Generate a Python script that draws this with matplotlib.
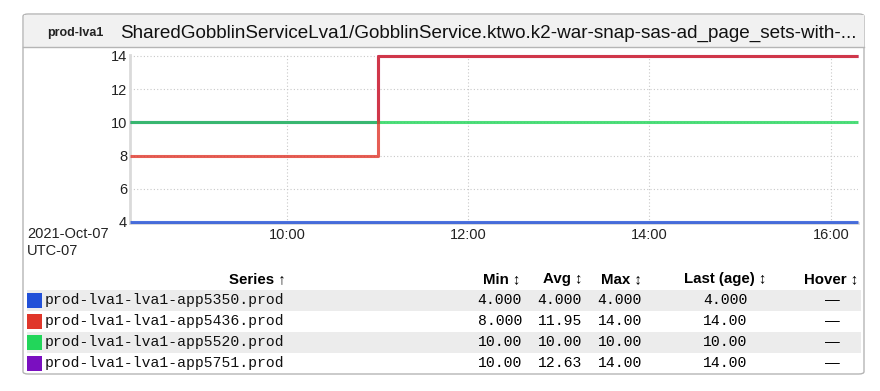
import matplotlib
matplotlib.use("Agg")
import matplotlib.pyplot as plt
from matplotlib.patches import FancyBboxPatch, Rectangle

# ---- data ----
times = [8.27, 11.01, 16.30]           # hours of day (UTC-07)
series_names = ["prod-lva1-lva1-app5350.prod", "prod-lva1-lva1-app5436.prod",
                "prod-lva1-lva1-app5520.prod", "prod-lva1-lva1-app5751.prod"]
series_colors = ["#2150d8", "#e0362a", "#22d65a", "#7a0fc0"]
v_5350 = [4, 4, 4]
v_5436 = [8, 14, 14]
v_5520 = [10, 10, 10]
v_5751 = [10, 14, 14]
series_values = [v_5350, v_5436, v_5520, v_5751]
col_min = ["4.000", "8.000", "10.00", "10.00"]
col_avg = ["4.000", "11.95", "10.00", "12.63"]
col_max = ["4.000", "14.00", "10.00", "14.00"]
col_last = ["4.000", "14.00", "10.00", "14.00"]
col_hover = ["\u2014", "\u2014", "\u2014", "\u2014"]
xticks = [10, 12, 14, 16]
xtick_labels = ["10:00", "12:00", "14:00", "16:00"]
yticks = [4, 6, 8, 10, 12, 14]

W, H = 880, 391
fig = plt.figure(figsize=(W / 100, H / 100), dpi=100)
SANS = ["Liberation Sans", "DejaVu Sans"]
MONO = ["Liberation Mono", "DejaVu Sans Mono"]

def fx(px):
    return px / W

def fy(py):
    return 1 - py / H

# outer rounded panel
box = FancyBboxPatch((fx(23), fy(374)), fx(864) - fx(23), fy(14) - fy(374),
                     boxstyle="round,pad=0,rounding_size=0.006",
                     transform=fig.transFigure, facecolor="white",
                     edgecolor="#b5b5b5", linewidth=1.0, zorder=-3)
fig.patches.append(box)
# header band
hdr = Rectangle((fx(23.5), fy(47)), fx(863.5) - fx(23.5), fy(14.5) - fy(47),
                transform=fig.transFigure, facecolor="#f1f1f1",
                edgecolor="none", zorder=-2)
fig.patches.append(hdr)
fig.lines.append(plt.Line2D([fx(23), fx(864)], [fy(47), fy(47)],
                            transform=fig.transFigure, color="#b5b5b5", lw=1.0, zorder=-1))
fig.text(fx(47), fy(33), "prod-lva1", fontsize=9, fontweight="bold",
         family=SANS, va="center", ha="left", color="#222222")
fig.text(fx(120), fy(33),
         "SharedGobblinServiceLva1/GobblinService.ktwo.k2-war-snap-sas-ad_page_sets-with-...",
         fontsize=13.6, family=SANS, va="center", ha="left", color="#111111")

# plot axes
ax_l, ax_r, ax_t, ax_b = 130, 858, 55, 223
ax = fig.add_axes([fx(ax_l), fy(ax_b), fx(ax_r) - fx(ax_l), fy(ax_t) - fy(ax_b)])
ax.patch.set_alpha(0)
draw_order = [3, 2, 1, 0]   # purple underneath, then green, red, blue
for i in draw_order:
    ax.plot(times, series_values[i], drawstyle="steps-post",
            color=series_colors[i], lw=2.2, alpha=0.8, solid_capstyle="butt",
            clip_on=False, zorder=3)
ax.set_xlim(times[0], times[-1])
ax.set_ylim(3.93, 14.06)
ax.set_xticks(xticks)
ax.set_xticklabels(xtick_labels)
ax.set_yticks(yticks)
ax.grid(True, color="#c8c8c8", linestyle=(0, (1, 2)), lw=0.8)
for s in ["top", "right"]:
    ax.spines[s].set_visible(False)
for s in ["left", "bottom"]:
    ax.spines[s].set_color("#dadada")
    ax.spines[s].set_linewidth(2)
ax.tick_params(length=0, labelsize=10.5, colors="#222222", pad=2)
for lab in ax.get_xticklabels() + ax.get_yticklabels():
    lab.set_family(SANS)
ax.tick_params(axis="x", pad=3.5)
fig.text(fx(27), fy(234), "2021-Oct-07", fontsize=10.5, family=SANS,
         va="center", ha="left", color="#222222")
fig.text(fx(27), fy(251), "UTC-07", fontsize=10.5, family=SANS,
         va="center", ha="left", color="#222222")

# table
hdr_y = 279
row_y = [300, 321, 342, 363]
fs_h = 10.8
fs_m = 10.6
fig.text(fx(286), fy(hdr_y), "Series \u2191", fontsize=fs_h, fontweight="bold",
         family=SANS, ha="right", va="center")
heads = [("Min \u2195", 520, "right"), ("Avg \u2195", 582, "right"),
         ("Max \u2195", 642, "right"), ("Last (age) \u2195", 725, "center"),
         ("Hover \u2195", 858, "right")]
for txt, x, ha in heads:
    fig.text(fx(x), fy(hdr_y), txt, fontsize=fs_h, fontweight="bold",
             family=SANS, ha=ha, va="center")

for r, y in enumerate(row_y):
    if r % 2 == 0:
        fig.patches.append(Rectangle((fx(27), fy(y + 10.5)), fx(861) - fx(27), 21 / H,
                                     transform=fig.transFigure,
                                     facecolor="#ececec", edgecolor="none", zorder=-1))
    fig.patches.append(Rectangle((fx(27), fy(y + 7.5)), 15 / W, 15 / H,
                                 transform=fig.transFigure,
                                 facecolor=series_colors[r], edgecolor="none", zorder=1))
    fig.text(fx(45), fy(y), series_names[r], fontsize=fs_m, family=MONO,
             ha="left", va="center", color="#111111")
    fig.text(fx(522), fy(y), col_min[r], fontsize=fs_m, family=MONO, ha="right", va="center")
    fig.text(fx(582), fy(y), col_avg[r], fontsize=fs_m, family=MONO, ha="right", va="center")
    fig.text(fx(642), fy(y), col_max[r], fontsize=fs_m, family=MONO, ha="right", va="center")
    fig.text(fx(725.5), fy(y), col_last[r], fontsize=fs_m, family=MONO, ha="center", va="center")
    fig.text(fx(832), fy(y), col_hover[r], fontsize=fs_m, family=SANS, ha="center", va="center")

fig.savefig("out.png", dpi=100)
